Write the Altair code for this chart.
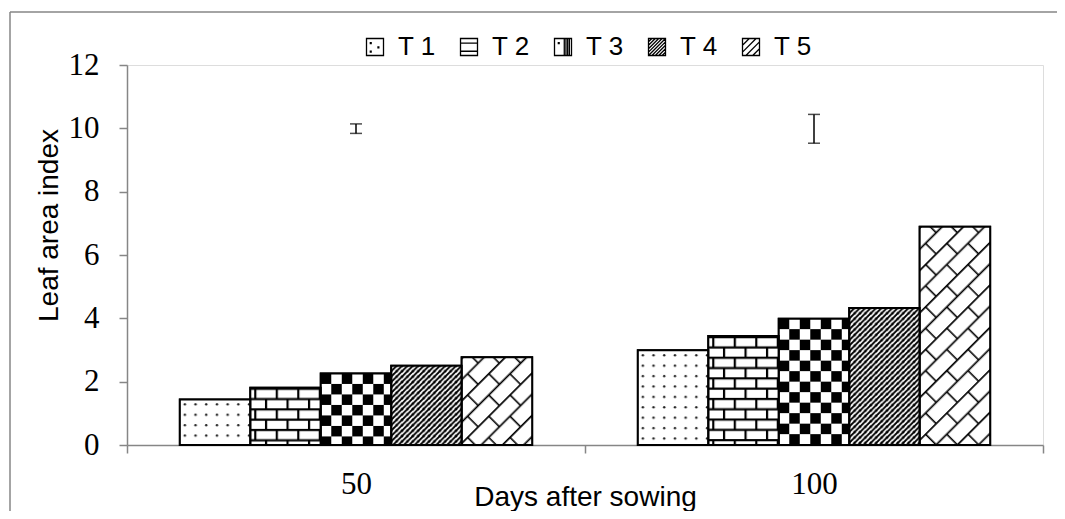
import base64
import altair as alt
import pandas as pd

# ---- data ----
DAYS = ["50", "100"]
TREATMENTS = ["T 1", "T 2", "T 3", "T 4", "T 5"]
LAI_50 = [1.44, 1.81, 2.26, 2.50, 2.77]
LAI_100 = [2.99, 3.44, 3.99, 4.33, 6.89]
ERR_LOW = [9.84, 9.53]
ERR_HIGH = [10.14, 10.44]
Y_TICKS = [0, 2, 4, 6, 8, 10, 12]

rows = []
for d, vals in zip(DAYS, [LAI_50, LAI_100]):
    for t, v in zip(TREATMENTS, vals):
        rows.append({"day": d, "trt": t, "lai": v})
df = pd.DataFrame(rows)
err = pd.DataFrame({"day": DAYS, "lo": ERR_LOW, "hi": ERR_HIGH})

# ---- fill patterns (style only) ----
PAT = {
    "T 1": '<pattern id="p" width="10.7" height="10.4" patternUnits="userSpaceOnUse">'
           '<rect width="10.7" height="10.4" fill="#fff"/>'
           '<circle cx="5" cy="5" r="1.25" fill="#222"/></pattern>',
    "T 2": '<pattern id="p" width="21.5" height="20.6" patternUnits="userSpaceOnUse">'
           '<rect width="21.5" height="20.6" fill="#fff"/>'
           '<path d="M0,1 H21.5 M0,11.3 H21.5 M5,1 V11.3 M15.75,11.3 V21.6" '
           'stroke="#000" stroke-width="2.2" fill="none"/></pattern>',
    "T 3": '<pattern id="p" width="21" height="21" patternUnits="userSpaceOnUse">'
           '<rect width="21" height="21" fill="#fff"/>'
           '<rect width="10.5" height="10.5" fill="#000"/>'
           '<rect x="10.5" y="10.5" width="10.5" height="10.5" fill="#000"/></pattern>',
    "T 4": '<pattern id="p" width="5.4" height="5.4" patternUnits="userSpaceOnUse">'
           '<rect width="5.4" height="5.4" fill="#fff"/>'
           '<path d="M-1,1.4 L1.4,-1 M0,5.4 L5.4,0 M4,6.4 L6.4,4" stroke="#000" '
           'stroke-width="1.9" fill="none"/></pattern>',
    "T 5": '<pattern id="p" width="30" height="30" patternUnits="userSpaceOnUse" '
           'patternTransform="rotate(-45)">'
           '<rect width="30" height="30" fill="#fff"/>'
           '<path d="M0,0.8 H30 M0,15.8 H30 M7.5,0.8 V15.8 M22.5,15.8 V30.8" '
           'stroke="#000" stroke-width="1.6" fill="none"/></pattern>',
}


def uri(p):
    svg = ('<svg xmlns="http://www.w3.org/2000/svg"><defs>' + p +
           '</defs><rect width="100%" height="100%" fill="url(#p)"/></svg>')
    return "data:image/svg+xml;base64," + base64.b64encode(svg.encode()).decode()


# legend symbol glyphs (unit square -1..1), imitating the patterns
SQ = "M-1,-1H1V1H-1Z"


def diag(cs):
    out = ""
    for c in cs:
        if c <= 0:
            out += f"M-1,{c + 1:.2f}L{c + 1:.2f},-1"
        else:
            out += f"M{c - 1:.2f},1L1,{c - 1:.2f}"
    return out


SYMBOLS = [
    SQ + "M-0.55,-0.5h0.1v0.1h-0.1ZM0.35,0h0.1v0.1h-0.1ZM-0.55,0.5h0.1v0.1h-0.1Z",
    SQ + "M-1,-0.45H1M-1,0.5H1",
    SQ + "M0.15,-1V1M0.35,-1V1M0.55,-1V1M0.75,-1V1M-0.55,-0.5h0.1v0.1h-0.1Z",
    SQ + diag([-1.6, -1.2, -0.8, -0.4, 0.0, 0.4, 0.8, 1.2, 1.6]),
    SQ + diag([-1.2, -0.4, 0.4, 1.2]),
]
LEGEND_FILLS = ["#ffffff", "#ffffff", "#ffffff", "#ffffff", "#ffffff"]
AXIS_GREY = "#868686"

x_scale = alt.Scale(domain=DAYS, paddingInner=0, paddingOuter=0)
xoff_scale = alt.Scale(domain=TREATMENTS, paddingInner=0, paddingOuter=0.75)
y_scale = alt.Scale(domain=[0, 12], nice=False)

x_axis = alt.Axis(
    title="Days after sowing", labelAngle=0, tickBand="extent",
    labelFont="Liberation Serif", labelFontSize=31, labelColor="black",
    labelPadding=16, tickSize=8, tickColor=AXIS_GREY, tickWidth=1.5,
    domainColor=AXIS_GREY, domainWidth=1.5,
    titleFont="Liberation Sans", titleFontSize=28, titleFontWeight="normal",
    titleColor="black", titleY=60, titleBaseline="alphabetic",
)
y_axis = alt.Axis(
    values=Y_TICKS, title="Leaf area index", grid=False,
    labelFont="Liberation Serif", labelFontSize=31, labelColor="black",
    labelPadding=20, tickSize=8, tickColor=AXIS_GREY, tickWidth=1.5,
    domainColor=AXIS_GREY, domainWidth=1.5,
    titleFont="Liberation Sans", titleFontSize=28, titleFontWeight="normal",
    titleColor="black", titleX=-70, titleY=160, titleBaseline="alphabetic",
)

X = alt.X("day:N", scale=x_scale, axis=x_axis)
XO = alt.XOffset("trt:N", scale=xoff_scale)
Y = alt.Y("lai:Q", scale=y_scale, axis=y_axis)

legend = alt.Legend(
    title=None, orient="none", legendX=235, legendY=-31,
    direction="horizontal", columns=5,
    symbolSize=289, symbolStrokeColor="black", symbolStrokeWidth=1.3,
    symbolFillColor="white", symbolOpacity=1,
    labelFont="Liberation Sans", labelFontSize=26,
    labelColor="black", labelOffset=10, columnPadding=20, padding=0,
)
COLOR = alt.Color("trt:N", scale=alt.Scale(domain=TREATMENTS, range=LEGEND_FILLS),
                  legend=legend)
SHAPE = alt.Shape("trt:N", scale=alt.Scale(domain=TREATMENTS, range=SYMBOLS),
                  legend=legend)

bars = alt.Chart(df).mark_bar(stroke="black", strokeWidth=2).encode(
    x=X, xOffset=XO, y=Y, color=COLOR
)

key = alt.Chart(df).mark_point(filled=True, opacity=0).encode(
    x=X, xOffset=XO, y=Y, color=COLOR, shape=SHAPE
)

patterns = [
    alt.Chart(df).transform_filter(alt.datum.trt == t).mark_image(aspect=False).encode(
        x=X, xOffset=XO, y=Y, y2=alt.datum(0), url=alt.value(uri(PAT[t]))
    )
    for t in TREATMENTS
]

outline = alt.Chart(df).mark_bar(stroke="black", strokeWidth=2, fillOpacity=0).encode(
    x=X, xOffset=XO, y=Y
)

YE = alt.Y("lo:Q", scale=y_scale, axis=y_axis)
err_rule = alt.Chart(err).mark_rule(color="black", strokeWidth=1.5).encode(
    x=X, y=YE, y2="hi:Q"
)
cap_lo = alt.Chart(err).mark_tick(color="black", thickness=1.5, size=12).encode(x=X, y=YE)
cap_hi = alt.Chart(err).mark_tick(color="black", thickness=1.5, size=12).encode(
    x=X, y=alt.Y("hi:Q", scale=y_scale, axis=y_axis)
)

frame = alt.Data(values=[{}])
border_top = alt.Chart(frame).mark_rule(color=AXIS_GREY, strokeWidth=1.5).encode(
    x=alt.value(-117), x2=alt.value(935), y=alt.value(-53)
)
border_left = alt.Chart(frame).mark_rule(color=AXIS_GREY, strokeWidth=1.5).encode(
    x=alt.value(-117), y=alt.value(-53), y2=alt.value(450)
)

chart = alt.layer(
    border_top, border_left, bars, key, *patterns, outline, err_rule, cap_lo, cap_hi
).properties(
    width=916, height=380,
    padding={"left": 119, "top": 57, "right": 14, "bottom": 66},
    autosize=alt.AutoSizeParams(type="none"),
).configure_view(stroke=None).configure(background="white")

chart.save("out.html", embed_options={"renderer": "svg", "actions": False})
